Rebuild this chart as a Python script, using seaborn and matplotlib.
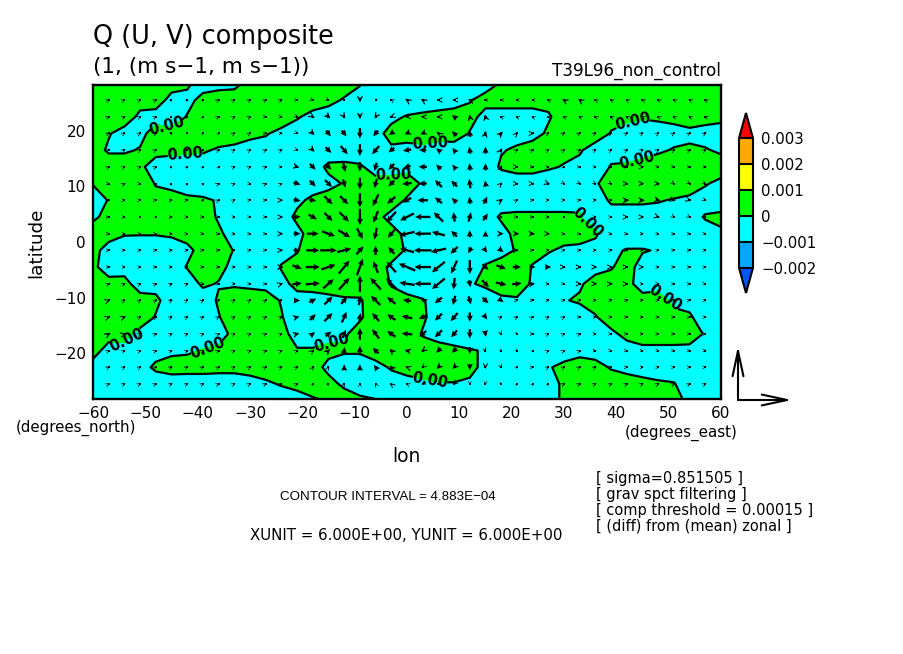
import numpy as np
import pandas as pd
import matplotlib
matplotlib.use("Agg")
import matplotlib.pyplot as plt
import seaborn as sns

sns.set_theme(style="white")
plt.rcParams['font.family'] = ['DejaVu Sans']

W, H = 904, 654
LONS = list(range(-60, 61, 3))
LATS = [28.5, 25.5, 22.5, 19.5, 16.5, 13.5, 10.5, 7.5, 4.5, 1.5,
        -1.5, -4.5, -7.5, -10.5, -13.5, -16.5, -19.5, -22.5, -25.5, -28.5]
Q_UNIT = 1e-5
Q_ROWS = [
 [5,5,5,5,5,5,3,-7,-5,-5, 5,5,5,5,5,5,5,1,-9,-5, -5,-5,-5,-5,-5,-6,1,5,5,5, 5,5,5,5,5,5,5,5,5,5,5],
 [5,5,5,5,6,-4,-5,5,7,9, 5,5,5,5,5,3,-1,-5,-5,-5, -9,-6,-5,-5,-1,5,5,5,5,5, 5,5,5,5,5,5,5,5,5,5,5],
 [5,5,7,-3,-5,-9,1,5,5,5, 5,5,6,1,-3,-5,-5,-5,-5,-3, 1,2,3,5,5,-5,-5,-5,-5,-2, 8,5,5,5,3,1,2,4,6,5,3],
 [5,1,-5,-4,6,5,5,5,9,6, 3,1,-3,-5,-5,-5,-5,-5,-4,4, 5,6,5,9,-1,-5,-5,-5,-7,3, 5,5,9,-1,-5,-5,-5,-5,-3,-5,-5],
 [6,-2,-2,1,5,3,2,2,-2,-3, -5,-5,-5,-5,-5,-9,-7,-9,-5,-2, -4,-3,-5,-9,-5,-5,-1,2,9,5, 4,2,-8,-5,-6,-5,-2,1,2,1,-2],
 [5,8,8,3,-7,-6,-6,-8,-5,-5, -5,-5,-5,-5,-7,3,3,2,-6,-5, -5,-5,-5,-5,-5,-8,2,4,4,2, -1,-5,-9,1,2,5,7,5,5,5,6],
 [1,5,5,9,-1,-4,-7,-8,-5,-5, -5,-5,-5,-5,-7,-4,1,5,5,5, 8,-2,-5,-5,-5,-5,-9,-6,-6,-9, -5,-5,-2,8,5,5,5,9,7,1,-3],
 [-9,1,5,5,5,6,3,2,-1,-5, -5,-5,-5,-3,3,6,5,5,5,8, -2,-5,-5,-5,-5,-5,-7,-7,-7,-7, -7,-3,-7,2,2,2,1,-1,-3,-5,-7],
 [-3,5,5,5,5,5,5,8,-2,-5, -5,-5,-7,3,5,5,5,5,5,-5, -5,-5,-5,-5,-5,-7,2,3,3,3, 3,1,-7,-6,-6,-6,-6,-5,-5,1,3],
 [8,5,1,1,1,2,6,5,3,-7, -5,-5,-5,-4,6,5,5,5,5,6, -4,-5,-5,-5,-5,-5,-5,4,5,5, 5,5,2,-8,-9,-9,-5,-5,-5,-5,-2],
 [4,-5,-7,-9,-9,-7,-4,6,9,-1, -5,-5,-5,-1,9,5,5,5,5,8, -2,-5,-5,-5,-5,-5,-4,1,5,1, -2,-3,-5,-3,1,1,-1,-5,-5,-5,-5],
 [3,-7,-5,-5,-5,-9,1,5,5,-5, -5,-9,1,5,5,5,5,5,7,-3, -5,-5,-5,-5,-7,1,5,9,-1,-5, -5,-5,-5,-1,5,-5,-5,-5,-5,-5,-5],
 [5,5,4,-6,-5,-5,-9,3,-1,-2, -3,-4,-4,4,5,7,8,5,8,-1, -5,-9,-5,-5,-1,2,7,8,-2,-5, -5,-2,6,5,4,-6,-5,-5,-5,-5,-5],
 [5,5,5,5,3,-7,-5,-9,2,8, 7,6,-1,-5,-5,-4,-2,-1,5,5, 3,1,-5,-5,-5,-6,-3,-2,-5,-5, -1,2,5,5,5,5,6,-4,-5,-5,-5],
 [5,5,5,9,-1,-5,-5,-5,-1,9, 5,5,1,-9,-5,-5,-5,-2,8,5, 5,2,-6,-5,-5,-5,-5,-5,-5,-5, -5,-8,-1,7,5,5,5,5,2,-8,-5],
 [5,5,5,-5,-5,-5,-5,-9,-6,4, 5,5,4,-5,-5,-5,-2,6,5,5, 7,-1,-5,-7,-9,-5,-5,-5,-5,-5, -5,-5,-5,-3,4,6,6,6,5,-1,-5],
 [5,-5,-5,-5,-6,-3,-2,1,3,5, 5,5,5,1,1,4,2,2,9,5, 5,5,5,3,1,-1,-5,-5,-5,-6, -6,-4,-5,-5,-6,-3,-3,-3,-3,-5,-5],
 [-5,-5,-5,-6,3,6,6,6,5,5, 5,6,5,5,6,-4,-8,-8,-6,2, 5,7,9,9,5,-5,-5,-5,-5,-1, 3,6,4,-1,-4,-6,-7,-9,-5,-5,-5],
 [-5,-5,-5,-5,-9,-8,-9,-9,-9,-9, -5,-2,1,4,7,5,-3,-7,-9,-9, -5,-3,-1,-1,-3,-5,-5,-5,-5,-7, 3,5,5,6,6,4,2,1,-9,-5,-5],
 [-5,-5,-5,-5,-5,-5,-5,-5,-5,-5, -5,-5,-7,-6,-2,1,8,3,1,-5, -5,-5,-5,-5,-5,-5,-5,-5,-5,-7, 3,5,5,5,5,5,5,6,-4,-5,-5],
]

# vector grid, values in ninths of a metre per second
VEC_LONS = list(range(-57, 58, 3))
VEC_LATS = LATS[1:-1]
COUNTS_PER_MS = 9
XUNIT, YUNIT = 6.0, 6.0
U_ROWS = [
 [2,2,2,2,1,1,1,2,2,2, 2,2,2,2,2,1,0,-1,-2,-3, -3,-3,-3,-3,-2,-2,-2,-2,-2,-3, -3,-2,-2,-2,-2,-2,-2,-2,-2],
 [2,2,2,2,1,1,1,2,2,2, 2,2,2,3,3,2,0,-2,-3,-3, -3,-3,-4,-1,-1,-2,-2,-2,-2,-2, -2,-2,-2,-2,-2,-2,-2,-2,-2],
 [2,2,2,2,1,1,1,1,2,2, 2,2,2,3,4,4,0,-4,-4,-4, -4,-3,-4,-1,1,3,2,3,2,2, 2,2,2,2,2,2,2,2,2],
 [2,2,2,2,1,1,1,2,2,2, 2,2,2,3,5,6,0,-6,-5,-7, -6,-4,-3,-1,0,2,2,2,2,2, 2,2,2,2,2,2,2,2,2],
 [2,2,2,2,1,1,1,1,2,2, 2,2,4,5,5,2,0,-2,-5,-6, -7,-4,-3,-1,0,1,3,2,2,2, 2,2,2,2,3,2,2,2,2],
 [2,2,2,1,1,1,1,2,2,2, 2,2,6,5,6,2,0,-2,-5,-8, -7,-6,-5,-1,-1,2,3,3,3,2, 2,2,2,3,3,3,2,2,2],
 [2,2,2,2,2,2,1,2,2,2, 2,3,6,6,7,7,0,-5,-7,-7, -9,-6,-4,-1,3,3,2,2,2,2, 2,2,2,4,4,4,3,3,2],
 [2,2,1,1,2,2,2,2,2,2, 2,3,6,7,7,8,0,-4,-8,-12, -13,-8,-1,2,4,1,2,2,2,1, 1,2,2,3,3,3,2,2,2],
 [2,2,2,2,2,2,2,2,2,2, 2,3,6,10,11,10,5,-2,-6,-13, -14,-11,-5,0,0,4,4,4,3,2, 2,2,2,2,2,2,2,2,2],
 [2,2,2,2,2,2,2,2,2,2, 2,3,6,11,14,12,6,0,-5,-12, -15,-13,-6,-3,3,4,3,2,2,2, 2,2,2,2,2,2,2,2,2],
 [2,2,2,2,2,2,2,2,2,2, 2,4,8,12,12,9,5,-4,-8,-14, -14,-11,-5,0,5,8,7,5,5,3, 3,3,3,3,3,2,2,2,2],
 [2,2,2,2,2,2,2,2,2,2, 2,3,8,12,9,9,0,-9,-9,-13, -14,-11,-1,1,6,9,8,4,2,2, 3,3,3,3,2,2,2,2,2],
 [3,2,2,2,2,2,2,2,2,2, 2,2,5,6,7,5,2,-8,-7,-7, -3,-6,-2,2,5,4,2,2,2,2, 2,2,2,2,2,2,2,2,2],
 [3,3,2,2,2,2,2,2,2,2, 2,2,4,5,7,4,1,-6,-7,-9, -7,-6,-6,0,3,2,2,2,2,2, 2,2,2,2,2,2,2,2,2],
 [3,3,2,2,2,2,2,2,2,2, 2,2,4,4,5,3,0,-6,-7,-9, -6,-6,-5,0,1,1,1,2,2,2, 2,2,2,2,2,2,2,2,2],
 [2,2,2,2,2,2,2,2,2,2, 2,2,2,2,3,1,0,-5,-3,-4, -3,-4,-4,0,1,1,1,1,2,2, 2,2,2,2,2,2,2,2,2],
 [2,2,2,2,2,2,2,2,2,2, 2,2,2,1,1,0,0,-3,-3,-3, -2,-3,-3,0,0,1,1,2,2,2, 2,2,2,2,2,2,2,2,2],
 [2,2,2,2,2,2,2,2,2,2, 2,2,2,1,1,1,0,-1,-2,-2, -2,-2,-2,0,0,1,1,1,1,2, 2,2,2,2,2,2,2,2,2],
]
V_ROWS = [
 [1,1,1,1,1,1,1,1,1,1, 1,1,0,-1,-1,-1,-4,-1,1,2, 2,0,0,1,0,0,0,0,1,2, 2,1,1,1,1,1,1,1,1],
 [1,1,1,1,0,1,1,1,1,1, 0,0,-1,-2,-3,-3,-4,-3,-1,0, 0,0,3,4,4,1,1,1,1,1, 1,1,1,1,1,1,1,1,1],
 [1,1,1,1,1,0,1,1,1,1, 0,0,-1,-3,-5,-5,-9,-5,-3,-2, -2,2,4,6,4,3,2,0,1,1, 1,1,1,1,1,1,1,1,1],
 [0,1,1,1,1,1,1,1,1,1, 1,1,-1,-3,-5,-7,-10,-7,-4,-1, 0,3,4,6,6,3,1,1,1,1, 1,1,1,1,1,1,1,1,1],
 [1,1,1,1,1,1,1,1,1,1, 1,0,-1,-5,-5,-9,-8,-7,-5,-2, 0,4,4,6,6,3,0,0,0,0, 0,0,0,0,0,0,0,0,0],
 [0,1,0,1,1,1,1,1,1,0, 1,1,-2,-5,-6,-7,-10,-8,-5,-1, 0,6,5,8,5,2,0,0,-1,-1, -1,-1,-1,0,0,0,-1,-1,-1],
 [0,0,0,0,0,0,1,1,1,0, 0,0,-1,-1,-7,-7,-12,-10,-6,-4, 0,5,4,6,6,2,1,0,0,0, 0,0,0,0,0,-1,-1,-1,-1],
 [0,0,0,0,0,0,0,0,0,0, 0,0,0,-4,-7,-8,-14,-10,-9,-6, 0,8,8,8,6,1,0,0,0,0, 0,0,0,0,0,-1,-1,-1,-1],
 [0,0,0,0,0,0,0,0,0,0, 0,0,0,0,-4,-6,-9,-10,-7,-3, 0,3,5,6,5,0,0,0,0,0, 0,0,0,0,0,0,0,0,0],
 [0,0,0,0,0,0,0,0,0,0, 0,0,0,0,0,3,7,8,6,3, 0,-3,-6,-5,-4,-3,0,0,0,0, 0,0,0,0,0,0,0,0,0],
 [0,0,0,0,0,0,0,0,0,0, 0,0,-3,0,4,11,14,10,9,6, 0,-9,-11,-12,-5,-3,0,0,0,0, 0,0,0,0,0,0,0,0,0],
 [1,1,1,1,1,1,0,0,0,0, 0,1,1,1,8,10,14,10,9,2, 0,-9,-10,-6,-6,-2,1,1,0,0, 0,0,0,0,0,0,0,0,0],
 [1,1,1,1,1,1,1,1,1,1, 1,1,0,3,7,6,8,8,6,1, 1,-5,-8,-7,-5,-3,0,0,0,0, 0,0,0,0,0,0,0,0,0],
 [1,1,1,1,1,1,1,1,1,1, 1,1,1,5,7,9,7,7,5,2, -3,-6,-7,-8,-4,1,1,1,1,1, 0,0,0,0,0,0,0,0,0],
 [2,1,1,1,1,1,1,1,1,1, 1,1,1,3,4,7,10,8,5,1, -5,-6,-6,-8,-5,-2,-1,0,1,1, 1,0,0,0,0,0,0,0,0],
 [1,1,1,1,1,1,1,1,1,1, 1,1,1,2,3,6,8,5,3,1, -2,-4,-4,-6,-2,-1,-1,0,1,1, 1,0,0,0,0,0,0,0,0],
 [1,1,1,1,1,1,1,1,1,1, 1,1,1,2,2,5,5,4,3,1, -2,-3,-3,-5,-3,-2,1,0,1,1, 1,1,0,0,0,0,0,0,0],
 [1,1,1,1,1,1,1,1,1,1, 1,1,1,1,1,2,2,2,2,1, -1,-1,-2,-2,-2,-1,1,1,1,1, 1,1,1,1,1,1,1,1,1],
]
LEVELS = [-0.002, -0.001, 0, 0.001, 0.002, 0.003]
LEVEL_LABELS = ['\u22120.002', '\u22120.001', '0', '0.001', '0.002', '0.003']
FILLS = ['#0055FF', '#00A8FF', '#00FFFF', '#00FF00', '#FFFF00', '#FFA800', '#FF0000']
LABEL_SITES = [(-45.9, 21.1), (-42.4, 15.8), (-54.2, -17.1), (-38.3, -18.3), (-14.4, -17.7),
               (-2.6, 11.9), (4.4, 17.9), (43.2, 21.1), (43.8, 15.4), (34.2, 3.2),
               (49.2, -10.2), (4.4, -24.9)]
NOTES = ['[ sigma=0.851505 ]', '[ grav spct filtering ]',
         '[ comp threshold = 0.00015 ]', '[ (diff) from (mean) zonal ]']


def fx(px):
    return px / W


def fy(py):
    return 1 - py / H


fig = plt.figure(figsize=(W / 100, H / 100), dpi=100, facecolor='white')
ax = fig.add_axes([fx(93), fy(399), 628 / W, 314 / H])

Q = np.array(Q_ROWS, dtype=float) * Q_UNIT
cf = ax.contourf(LONS, LATS, Q, levels=LEVELS, colors=FILLS, extend='both')
cs = ax.contour(LONS, LATS, Q, levels=[0], colors='black', linewidths=1.6, linestyles='solid')
labels = ax.clabel(cs, fmt='%.2f', fontsize=10.5, manual=LABEL_SITES, inline=True, inline_spacing=1)
for t in labels:
    t.set_fontweight('bold')

U = np.array(U_ROWS, dtype=float)
V = np.array(V_ROWS, dtype=float)
xx, yy = np.meshgrid(VEC_LONS, VEC_LATS)
vec = pd.DataFrame({'lon': xx.ravel(), 'lat': yy.ravel(), 'u': U.ravel(), 'v': V.ravel()})
sns.scatterplot(data=vec, x='lon', y='lat', s=3, color='black', marker='s', linewidth=0, ax=ax, legend=False, zorder=5)
ax.quiver(vec['lon'], vec['lat'], vec['u'], vec['v'], angles='uv', scale_units='dots', scale=0.85,
          units='dots', width=2.3, headwidth=2.7, headlength=2.8, headaxislength=2.5, minlength=0,
          minshaft=0.6, pivot='mid', color='black', zorder=6)

ax.set_xlim(-60, 60)
ax.set_ylim(-28.2, 28.2)
ax.set_xticks(range(-60, 61, 10))
ax.set_xticks(range(-60, 61, 2), minor=True)
ax.set_yticks(range(-20, 21, 10))
ax.set_yticks(range(-28, 29, 2), minor=True)
ax.tick_params(axis='both', which='major', direction='in', length=5, width=1.1, top=True, right=True,
               bottom=True, left=True, labelsize=11, pad=5, color='black', labelcolor='black')
ax.tick_params(axis='both', which='minor', direction='in', length=2.4, width=1.0, top=True, right=True,
               bottom=True, left=True, color='black')
ax.set_xlabel('')
ax.set_ylabel('')
for s in ax.spines.values():
    s.set_visible(True)
    s.set_linewidth(1.7)
    s.set_color('black')

cax = fig.add_axes([fx(739), fy(293), 14 / W, 180 / H])
cb = fig.colorbar(cf, cax=cax, extend='both', extendfrac=0.194, drawedges=True, ticks=LEVELS, spacing='uniform')
cb.set_ticklabels(LEVEL_LABELS)
cb.ax.tick_params(length=0, labelsize=10.7, pad=6, labelcolor='black')
cb.outline.set_linewidth(1.5)
cb.outline.set_edgecolor('black')
cb.dividers.set_linewidth(1.5)
cb.dividers.set_color('black')

origin = (738, H - 400)
for dx, dy in [(XUNIT * COUNTS_PER_MS, 0), (0, YUNIT * COUNTS_PER_MS)]:
    ax.annotate('', xy=(origin[0] + dx, origin[1] + dy), xytext=origin,
                xycoords='figure pixels', textcoords='figure pixels',
                arrowprops=dict(arrowstyle='->,head_length=1.3,head_width=0.28', color='black',
                                lw=1.5, shrinkA=0, shrinkB=0, mutation_scale=14), annotation_clip=False)


def label(px, py, s, size, ha='left', va='center', rotation=0, family='DejaVu Sans'):
    fig.text(fx(px), fy(py), s, fontsize=size, ha=ha, va=va, rotation=rotation, color='black', family=family)


label(93, 37, 'Q (U, V) composite', 18.4)
label(93, 67, '(1, (m s\u22121, m s\u22121))', 15.5)
label(721, 71, 'T39L96_non_control', 12.2, ha='right')
label(36, 243, 'latitude', 13.2, ha='center', rotation=90)
label(406, 457, 'lon', 13.5, ha='center')
label(16, 428, '(degrees_north)', 10.8)
label(625, 433, '(degrees_east)', 10.9)
label(388, 497, 'CONTOUR INTERVAL = 4.883E\u221204', 9.6, ha='center', family='Liberation Sans')
label(406, 536, 'XUNIT = 6.000E+00, YUNIT = 6.000E+00', 10.8, ha='center')
for py, note in zip([478, 494, 510, 526], NOTES):
    label(596, py, note, 10.5)

fig.savefig('out.png', dpi=100, facecolor='white')
